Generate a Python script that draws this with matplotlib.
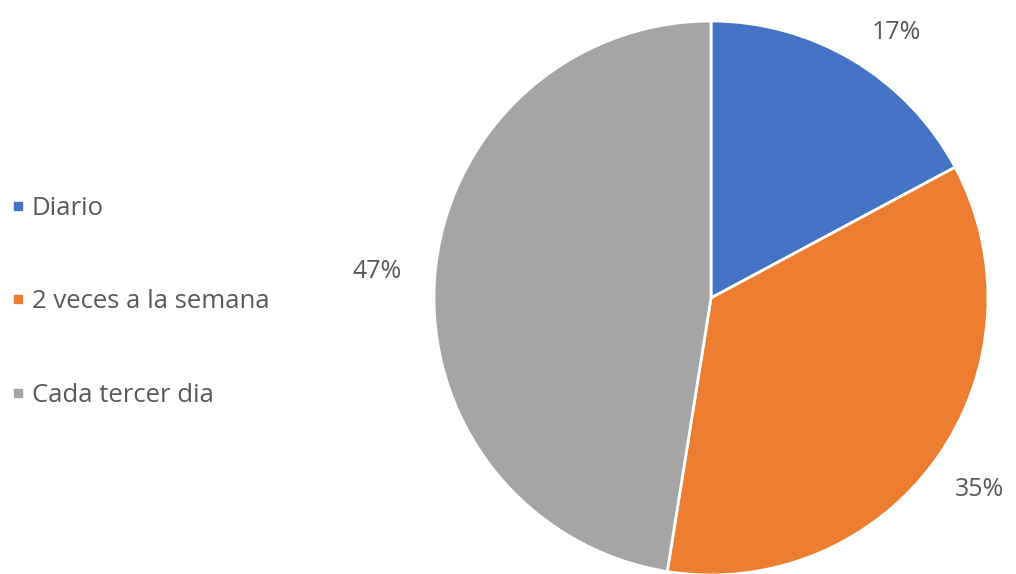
import matplotlib
matplotlib.use("Agg")
import matplotlib.pyplot as plt
from matplotlib.lines import Line2D
import numpy as np

# frecuencia de riego
categorias = ["Diario", "2 veces a la semana", "Cada tercer dia"]
porcentajes = [17, 35, 47]
colores = ["#4472C4", "#ED7D31", "#A5A5A5"]

plt.rcParams["font.family"] = ["Open Sans", "DejaVu Sans"]
texto = "#595959"

fig = plt.figure(figsize=(10.16, 5.74), dpi=100)
r = 277
cx, cy = 711, 298
ax = fig.add_axes([(cx - r) / 1016, (574 - cy - r) / 574, 2 * r / 1016, 2 * r / 574])

wedges, _, autotexts = ax.pie(
    porcentajes,
    colors=colores,
    startangle=90,
    counterclock=False,
    autopct=lambda p: f"{p:.0f}%",
    wedgeprops=dict(edgecolor="white", linewidth=2),
    textprops=dict(color=texto, fontsize=18),
)
ax.set_xlim(-1, 1)
ax.set_ylim(-1, 1)

# etiquetas fuera del pastel, un poco corridas como en Excel
giro = [-4, 0, 0]
dist = [1.17, 1.19, 1.21]
for w, t, g, d in zip(wedges, autotexts, giro, dist):
    ang = np.deg2rad((w.theta1 + w.theta2) / 2 + g)
    t.set_position((d * np.cos(ang), d * np.sin(ang)))

marcas = [Line2D([], [], linestyle="none", marker="s", markersize=5.5,
                 markerfacecolor=c, markeredgecolor=c) for c in colores]
fig.legend(
    marcas, categorias,
    loc="center left", bbox_to_anchor=(0.001, 0.474),
    frameon=False, fontsize=18.5, labelcolor=texto,
    handlelength=0.5, handletextpad=0.3,
    labelspacing=2.65, borderaxespad=0.0,
)

fig.savefig("out.png", dpi=100)
